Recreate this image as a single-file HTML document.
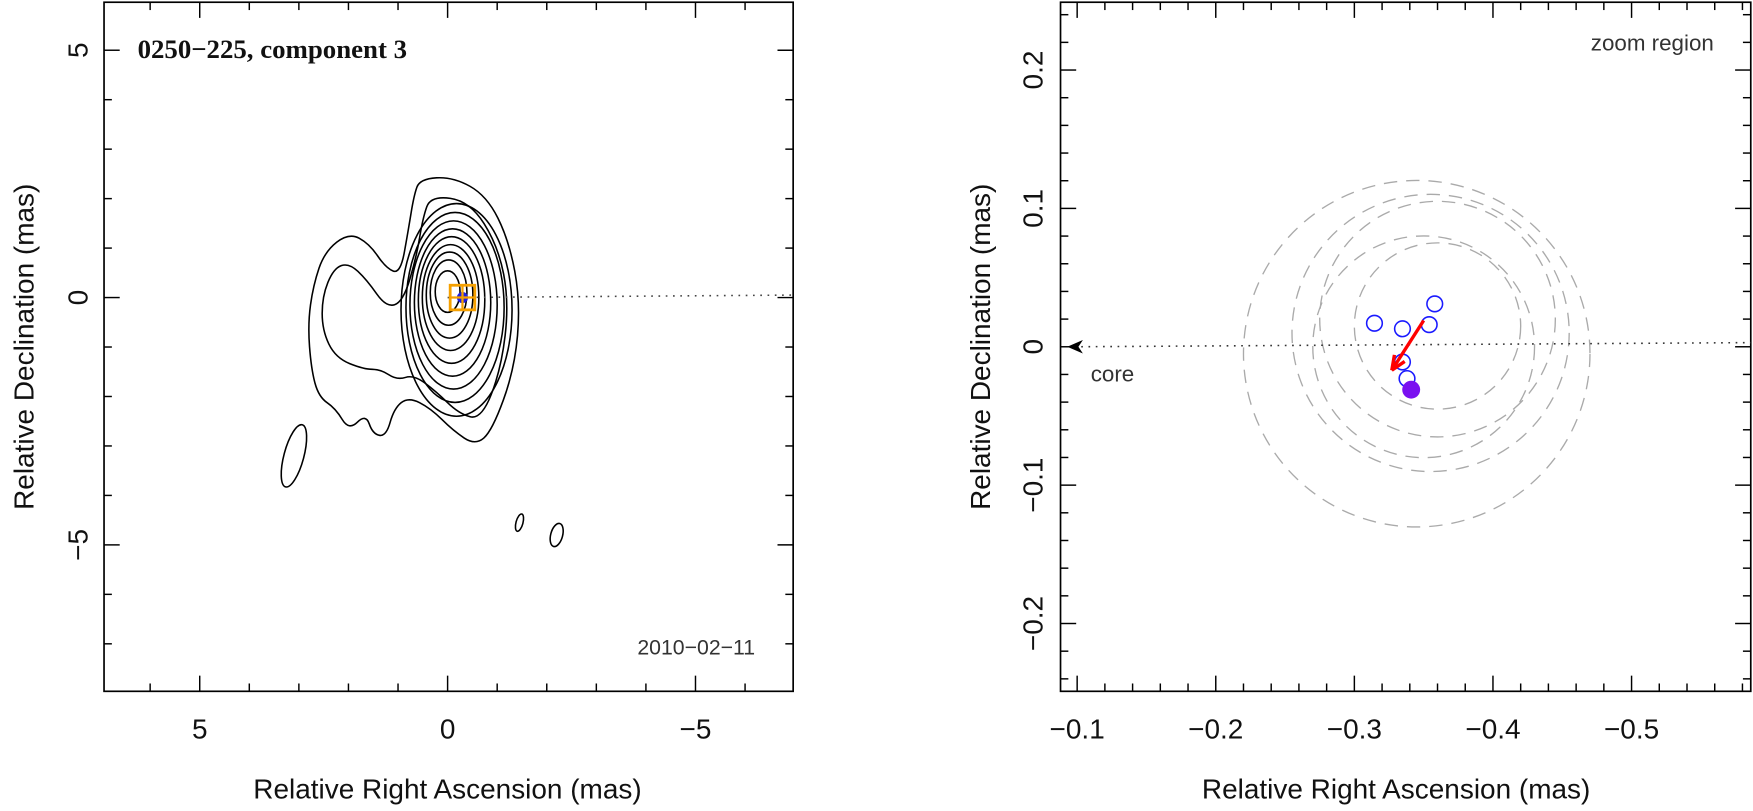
<!DOCTYPE html>
<html><head><meta charset="utf-8">
<style>
html,body{margin:0;padding:0;background:#fff;}
svg{display:block;font-family:"Liberation Sans",sans-serif;}
</style></head>
<body>
<svg id="c" width="1753" height="811" viewBox="0 0 1567 725" preserveAspectRatio="none" xmlns="http://www.w3.org/2000/svg"></svg>
<script>
// ---- Left panel data (mas) ----
const leftXTicks = [5, 0, -5];
const leftXTickLabels = ["5", "0", "\u22125"];
const leftYTicks = [5, 0, -5];
const leftYTickLabels = ["5", "0", "\u22125"];
const outerContourX = [0.56,-0.11,-0.79,-1.24,-1.47,-1.35,-0.90,-0.56,-0.11,0.34,0.79,1.08,1.24,1.51,1.65,1.99,2.26,2.60,2.75,2.82,2.71,2.48,1.99,1.58,1.24,0.95,0.79,0.68];
const outerContourY = [2.40,2.44,2.06,1.15,-0.09,-1.45,-2.69,-2.99,-2.69,-2.24,-2.01,-2.24,-2.81,-2.76,-2.35,-2.69,-2.24,-2.01,-1.45,-0.54,0.25,0.93,1.31,1.09,0.59,0.48,1.38,2.06];
const secondContourX = [0.34,-0.45,-1.02,-1.24,-1.08,-0.68,-0.23,0.23,0.68,1.02,1.35,1.69,2.26,2.53,2.53,2.30,1.99,1.63,1.24,0.90,0.63,0.50];
const secondContourY = [2.06,1.95,1.04,-0.09,-1.45,-2.47,-2.35,-1.90,-1.56,-1.67,-1.45,-1.45,-1.22,-0.66,0.02,0.59,0.70,0.36,-0.20,-0.09,0.81,1.61];
const ellRx = [1.12,0.99,0.88,0.77,0.67,0.57,0.47,0.37,0.25];
const ellRy = [2.15,1.92,1.70,1.49,1.28,1.07,0.87,0.66,0.42];
const ellCx = [-0.18,-0.15,-0.12,-0.1,-0.08,-0.06,-0.04,-0.02,0.0];
const ellCy = [-0.25,-0.2,-0.15,-0.1,-0.05,0,0.05,0.1,0.12];
const smallBlobX = [3.1, -1.45, -2.2];
const smallBlobY = [-3.2, -4.55, -4.8];
const smallBlobRx = [0.2, 0.07, 0.12];
const smallBlobRy = [0.65, 0.18, 0.24];
const compX = [-0.3];
const compY = [0.0];
// ---- Right panel data (mas) ----
const rightXTicks = [-0.1,-0.2,-0.3,-0.4,-0.5];
const rightXTickLabels = ["\u22120.1","\u22120.2","\u22120.3","\u22120.4","\u22120.5"];
const rightYTicks = [0.2,0.1,0,-0.1,-0.2];
const rightYTickLabels = ["0.2","0.1","0","\u22120.1","\u22120.2"];
const posX = [-0.3145,-0.3347,-0.358,-0.354,-0.3347,-0.338];
const posY = [0.017,0.013,0.031,0.016,-0.011,-0.023];
const lastX = [-0.341];
const lastY = [-0.031];
const circCx = [-0.345,-0.355,-0.36,-0.35,-0.36];
const circCy = [-0.005,0.01,0.02,0.0,0.015];
const circR = [0.125,0.1,0.085,0.08,0.06];
const arrowFrom = [-0.350, 0.019];
const arrowTo = [-0.327, -0.017];

const NS="http://www.w3.org/2000/svg";
const svg=document.getElementById('c');
function mk(tag,attrs,parent){const e=document.createElementNS(NS,tag);for(const k in attrs)e.setAttribute(k,attrs[k]);(parent||svg).appendChild(e);return e;}

const L={x0:93,x1:709,y0:2,y1:618,xa:6.93,xb:-6.97,ya:5.97,yb:-7.96};
const R={x0:948,x1:1565,y0:2,y1:618,xa:-0.088,xb:-0.586,ya:0.249,yb:-0.249};
function sx(P,v){return P.x0+(v-P.xa)/(P.xb-P.xa)*(P.x1-P.x0);}
function sy(P,v){return P.y0+(v-P.ya)/(P.yb-P.ya)*(P.y1-P.y0);}

function frame(P,name,minorStepX,minorStepY,majX,majY){
  const g=mk('g',{});
  
  
  const r=mk('rect',{x:P.x0,y:P.y0,width:P.x1-P.x0,height:P.y1-P.y0,fill:'none',stroke:'#000','stroke-width':1.5},g);
  
  
  const lo=Math.min(P.xa,P.xb),hi=Math.max(P.xa,P.xb);
  for(let i=Math.ceil(lo/minorStepX-1e-6);i<=Math.floor(hi/minorStepX+1e-6);i++){
    const v=i*minorStepX;const x=sx(P,v);
    const major=Math.abs(v/majX-Math.round(v/majX))<1e-6;const len=major?14:7;
    mk('line',{x1:x,y1:P.y1,x2:x,y2:P.y1-len,stroke:'#000','stroke-width':1.3},g);
    mk('line',{x1:x,y1:P.y0,x2:x,y2:P.y0+len,stroke:'#000','stroke-width':1.3},g);
  }
  const lo2=Math.min(P.ya,P.yb),hi2=Math.max(P.ya,P.yb);
  for(let i=Math.ceil(lo2/minorStepY-1e-6);i<=Math.floor(hi2/minorStepY+1e-6);i++){
    const v=i*minorStepY;const y=sy(P,v);
    const major=Math.abs(v/majY-Math.round(v/majY))<1e-6;const len=major?14:7;
    mk('line',{x1:P.x0,y1:y,x2:P.x0+len,y2:y,stroke:'#000','stroke-width':1.3},g);
    mk('line',{x1:P.x1,y1:y,x2:P.x1-len,y2:y,stroke:'#000','stroke-width':1.3},g);
  }
}
frame(L,'left-panel',1,1,5,5);
frame(R,'right-panel',0.02,0.02,0.1,0.1);

function txt(s,x,y,opt,name){
  const t=mk('text',Object.assign({x:x,y:y,'font-size':25,fill:'#111','text-anchor':'middle'},opt||{}));
  t.textContent=s;
  
  
  return t;
}
leftXTicks.forEach((v,i)=>txt(leftXTickLabels[i],sx(L,v),660,{},'left-x-tick-label'));
leftYTicks.forEach((v,i)=>{const y=sy(L,v);txt(leftYTickLabels[i],0,0,{transform:`translate(78,${y}) rotate(-90)`},'left-y-tick-label');});
rightXTicks.forEach((v,i)=>txt(rightXTickLabels[i],sx(R,v),660,{},'right-x-tick-label'));
rightYTicks.forEach((v,i)=>{const y=sy(R,v);txt(rightYTickLabels[i],0,0,{transform:`translate(932,${y}) rotate(-90)`},'right-y-tick-label');});
txt('Relative Right Ascension (mas)',400,714,{},'left-x-axis-title');
txt('Relative Right Ascension (mas)',1248,714,{},'right-x-axis-title');
txt('Relative Declination (mas)',0,0,{transform:'translate(30,310) rotate(-90)'},'left-y-axis-title');
txt('Relative Declination (mas)',0,0,{transform:'translate(885,310) rotate(-90)'},'right-y-axis-title');
txt('0250\u2212225, component 3',123,52,{'text-anchor':'start','font-size':24,'font-weight':'bold','font-family':'"Liberation Serif",serif'},'plot-title');
txt('2010\u221202\u221211',675,585,{'text-anchor':'end','font-size':19,fill:'#333'},'epoch-label');
txt('zoom region',1532,45,{'text-anchor':'end','font-size':20,fill:'#333'},'zoom-region-label');
txt('core',975,341,{'text-anchor':'start','font-size':20,fill:'#333'},'core-label');

function poly(xs,ys,name){
  const n=xs.length;
  const pts=xs.map((x,i)=>[sx(L,x),sy(L,ys[i])]);
  let d='M'+((pts[0][0]+pts[n-1][0])/2)+','+((pts[0][1]+pts[n-1][1])/2);
  for(let i=0;i<n;i++){const p=pts[i],q=pts[(i+1)%n];d+=` Q${p[0]},${p[1]} ${(p[0]+q[0])/2},${(p[1]+q[1])/2}`;}
  const e=mk('path',{d:d,fill:'none',stroke:'#000','stroke-width':1.4});
  
  
}
poly(outerContourX,outerContourY,'contour-outer');
poly(secondContourX,secondContourY,'contour-second');
ellRx.forEach((rx,i)=>{
  const e=mk('ellipse',{cx:sx(L,ellCx[i]),cy:sy(L,ellCy[i]),rx:Math.abs(sx(L,rx)-sx(L,0)),ry:Math.abs(sy(L,ellRy[i])-sy(L,0)),fill:'none',stroke:'#000','stroke-width':1.4});
  
  
});
smallBlobX.forEach((x,i)=>{
  const cx=sx(L,x),cy=sy(L,smallBlobY[i]);
  const e=mk('ellipse',{cx:cx,cy:cy,rx:Math.abs(sx(L,smallBlobRx[i])-sx(L,0)),ry:Math.abs(sy(L,smallBlobRy[i])-sy(L,0)),fill:'none',stroke:'#000','stroke-width':1.4,transform:`rotate(15 ${cx} ${cy})`});
  
  
});
{const e=mk('line',{x1:sx(L,0),y1:sy(L,0),x2:L.x1,y2:sy(L,0.05),stroke:'#444','stroke-width':1.4,'stroke-dasharray':'1.5,5'});
}
compX.forEach((x,i)=>{
  const cx=sx(L,x),cy=sy(L,compY[i]);
  const d=mk('circle',{cx:cx,cy:cy,r:5,fill:'#2020e0'});
  
  const s=mk('rect',{x:cx-11,y:cy-11,width:22,height:22,fill:'none',stroke:'#f5a000','stroke-width':2.5});
  
  mk('line',{x1:cx,y1:cy-11,x2:cx,y2:cy+11,stroke:'#f5a000','stroke-width':2});
  mk('line',{x1:cx-11,y1:cy,x2:cx+11,y2:cy,stroke:'#f5a000','stroke-width':2});
});

circR.forEach((r,i)=>{
  const e=mk('circle',{cx:sx(R,circCx[i]),cy:sy(R,circCy[i]),r:Math.abs(sx(R,r)-sx(R,0)),fill:'none',stroke:'#aaa','stroke-width':1.2,'stroke-dasharray':'12,8'});
  
  
});
{const y0=sy(R,0);const e=mk('line',{x1:R.x0+12,y1:y0,x2:R.x1,y2:sy(R,0.003),stroke:'#333','stroke-width':1.4,'stroke-dasharray':'1.5,5'});

const a=mk('path',{d:`M${R.x0+6},${y0} L${R.x0+20},${y0-6} L${R.x0+16},${y0} L${R.x0+20},${y0+6} Z`,fill:'#000'});
}
posX.forEach((x,i)=>{
  const e=mk('circle',{cx:sx(R,x),cy:sy(R,posY[i]),r:7,fill:'none',stroke:'#1a1aff','stroke-width':1.4});
  
  
});
lastX.forEach((x,i)=>{
  const e=mk('circle',{cx:sx(R,x),cy:sy(R,lastY[i]),r:8,fill:'#7a10f0'});
  
  
});
{const x1=sx(R,arrowFrom[0]),y1=sy(R,arrowFrom[1]),x2=sx(R,arrowTo[0]),y2=sy(R,arrowTo[1]);
const e=mk('line',{x1:x1,y1:y1,x2:x2,y2:y2,stroke:'#ff0000','stroke-width':3});

const ang=Math.atan2(y2-y1,x2-x1);const h=14;
const p1=[x2-h*Math.cos(ang-0.4),y2-h*Math.sin(ang-0.4)],p2=[x2-h*Math.cos(ang+0.4),y2-h*Math.sin(ang+0.4)];
const a=mk('path',{d:`M${x2},${y2} L${p1[0]},${p1[1]} M${x2},${y2} L${p2[0]},${p2[1]}`,stroke:'#ff0000','stroke-width':3,fill:'none'});
}
</script>
</body></html>
